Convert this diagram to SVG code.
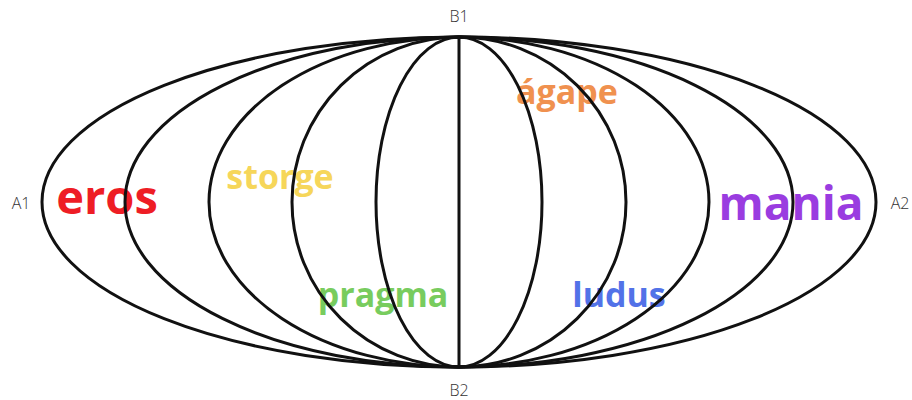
<svg xmlns="http://www.w3.org/2000/svg" width="912" height="400" viewBox="0 0 912 400">
<style>
.ln{fill:none;stroke:#111;stroke-width:3}
.big{font-family:"Open Sans","Liberation Sans",sans-serif;font-weight:700;text-anchor:middle}
.ax{font-family:"Open Sans","Liberation Sans",sans-serif;font-weight:300;font-size:16px;fill:#333;text-anchor:middle}
</style>
<rect width="912" height="400" fill="#fff"/>
<g id="labels">
<text class="big" x="107" y="214" font-size="47" fill="#EE1D25">eros</text>
<text class="big" x="280" y="189" font-size="34" fill="#F6D65A">storge</text>
<text class="big" x="567" y="104" font-size="34" fill="#F0914F">ágape</text>
<text class="big" x="791" y="220" font-size="46" fill="#9A3CE0">mania</text>
<text class="big" x="383" y="307" font-size="34" fill="#78CC5E">pragma</text>
<text class="big" x="619" y="307" font-size="34" fill="#5272E8">ludus</text>
</g>
<g id="connectors">
<ellipse class="ln" cx="459" cy="202" rx="417" ry="165"/>
<ellipse class="ln" cx="459" cy="202" rx="334" ry="165"/>
<ellipse class="ln" cx="459" cy="202" rx="250" ry="165"/>
<ellipse class="ln" cx="459" cy="202" rx="167" ry="165"/>
<ellipse class="ln" cx="459" cy="202" rx="83" ry="165"/>
<line class="ln" x1="459" y1="37" x2="459" y2="367"/>
</g>
<g id="A1"><text class="ax" x="21" y="209">A1</text></g>
<g id="A2"><text class="ax" x="900" y="209">A2</text></g>
<g id="B1"><text class="ax" x="459" y="22">B1</text></g>
<g id="B2"><text class="ax" x="459" y="396">B2</text></g>
</svg>
